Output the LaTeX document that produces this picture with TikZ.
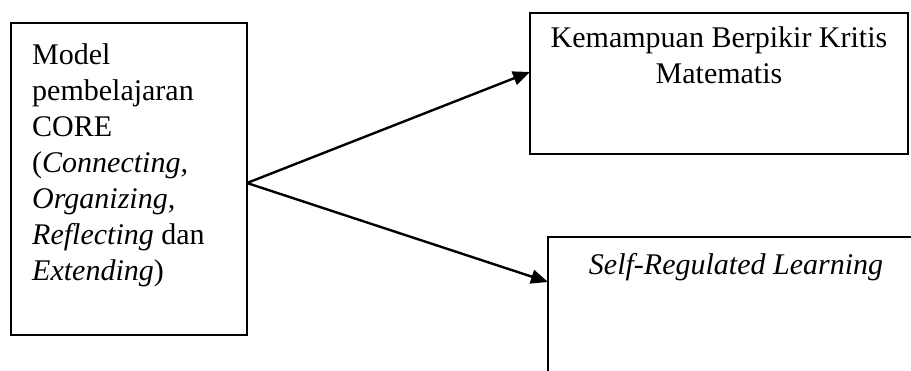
\documentclass[tikz,border=0pt]{standalone}
\usepackage{fontspec}
\setmainfont{Liberation Serif}
\usetikzlibrary{arrows.meta}
\begin{document}
\begin{tikzpicture}[x=1pt,y=-1pt,
  box/.style={draw=black,line width=2.2pt,rectangle,inner sep=0pt},
  txt/.style={inner sep=0pt,font=\fontsize{30}{36}\selectfont},
  conn/.style={line width=2.4pt,-{Triangle[length=17pt,width=14pt]}}]
\clip (0,0) rectangle (911,371);
\useasboundingbox (0,0) rectangle (911,371);
% boxes
\node[box,minimum width=236pt,minimum height=312pt] (L) at (129,179) {};
\node[box,minimum width=378pt,minimum height=141pt] (T) at (719,83.5) {};
\node[box,minimum width=376pt,minimum height=180pt] (S) at (736,327) {};
% texts
\node[txt,anchor=north west,align=left] (Ltxt) at (32,43)
  {Model\\pembelajaran\\CORE\\(\textit{Connecting,}\\\textit{Organizing,}\\\textit{Reflecting} dan\\\textit{Extending})};
\node[txt,anchor=base] (Ttxt1) at (719,48) {Kemampuan Berpikir Kritis};
\node[txt,anchor=base] (Ttxt2) at (719,84) {Matematis};
\node[txt,anchor=base] (Stxt) at (736,275) {\textit{Self-Regulated Learning}};
% connectors
\coordinate (fork) at (247,183);
\coordinate (tipT) at (530,72);
\coordinate (tipS) at (548,282);
\draw[conn] (fork) -- (tipT);
\draw[conn] (fork) -- (tipS);
\end{tikzpicture}
\end{document}
